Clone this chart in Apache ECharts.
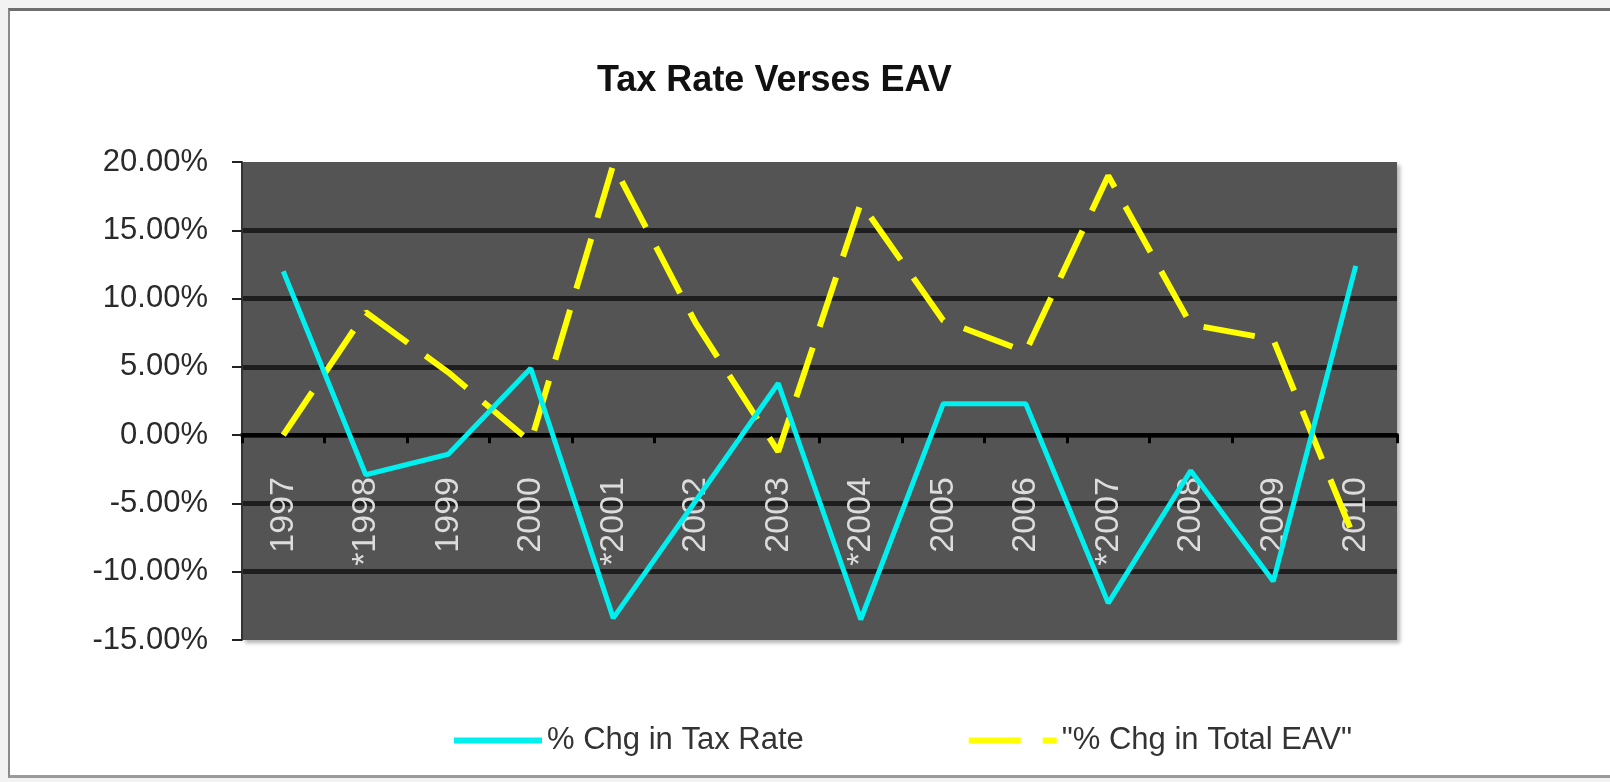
<!DOCTYPE html>
<html>
<head>
<meta charset="utf-8">
<title>Tax Rate Verses EAV</title>
<script src="https://cdn.jsdelivr.net/npm/echarts@6/dist/echarts.min.js"></script>
<style>
    body { margin: 0; background: #f2f2f2; overflow: hidden; }
    #frame { position: absolute; left: 8px; top: 8px; width: 1640px; height: 764px; background: #fff;
             border-top: 3px solid #6e6e6e; border-left: 2px solid #8a8a8a; border-bottom: 3px solid #9a9a9a; }
    #graph { position: absolute; left: 0; top: 0; width: 1610px; height: 782px; }
</style>
</head>
<body onload="onBodyLoad()">
<div id="frame"></div>
<div id="graph"></div>
<script>
var years = ['1997', '*1998', '1999', '2000', '*2001', '2002', '2003', '*2004', '2005', '2006', '*2007', '2008', '2009', '2010']
var taxRate = [12.0, -2.9, -1.4, 4.9, -13.4, -4.8, 3.8, -13.5, 2.3, 2.3, -12.3, -2.6, -10.7, 12.4]
var totalEAV = [0.0, 9.0, 4.6, -0.5, 19.8, 8.2, -1.2, 17.0, 8.4, 6.1, 19.0, 8.1, 7.0, -7.8]
var yTicks = [-15, 20, 5]   // min, max, step
var seriesNames = ['% Chg in Tax Rate', '"% Chg in Total EAV"']

var Chart

function onBodyLoad() {
    makeGraph()
}

function makeGraph() {
    Chart = echarts.init(document.getElementById('graph'))
    var font = 'Liberation Sans, Arial, sans-serif'
    var option = {
        animation: false,
        textStyle: { fontFamily: font },
        title: {
            text: 'Tax Rate Verses EAV',
            left: 592,
            top: 58,
            textStyle: { fontSize: 36, fontWeight: 'bold', color: '#111', fontFamily: font }
        },
        legend: {
            data: seriesNames,
            left: 446,
            top: 720,
            itemWidth: 88,
            itemHeight: 14,
            itemGap: 162,
            itemStyle: { opacity: 0 },      // hide the dot, keep only the line
            lineStyle: { width: 6 },
            textStyle: { fontSize: 31, color: '#333', fontFamily: font }
        },
        grid: {
            show: true,
            left: 242,
            right: 213,
            top: 162,
            bottom: 142,
            backgroundColor: '#545454',
            borderWidth: 0,
            shadowColor: 'rgba(0,0,0,0.3)',
            shadowBlur: 4,
            shadowOffsetX: 3,
            shadowOffsetY: 3
        },
        xAxis: {
            type: 'category',
            data: years,
            boundaryGap: true,
            axisLine: { onZero: true, lineStyle: { color: '#000', width: 4 } },
            axisTick: { show: true, length: 8, lineStyle: { color: '#000', width: 3 } },
            axisLabel: {
                rotate: 90,
                margin: -163,   // labels sit just under the zero line, inside the plot
                fontSize: 34,
                color: '#dcdcdc',
                fontFamily: font
            },
            splitLine: { show: false }
        },
        yAxis: {
            type: 'value',
            min: yTicks[0],
            max: yTicks[1],
            interval: yTicks[2],
            axisLine: { show: true, lineStyle: { color: '#333', width: 2 } },
            axisTick: { show: true, length: 10, lineStyle: { color: '#222', width: 2 } },
            axisLabel: {
                margin: 34,
                fontSize: 31,
                color: '#2a2a2a',
                fontFamily: font,
                formatter: function (v) { return v.toFixed(2) + '%' }
            },
            splitLine: {
                show: true,
                // no line on the top and bottom edge of the plot
                lineStyle: {
                    width: 5,
                    color: ['transparent', '#1e1e1e', '#1e1e1e', '#1e1e1e', '#1e1e1e', '#1e1e1e', '#1e1e1e', 'transparent']
                }
            }
        },
        series: [
            {
                name: seriesNames[0],
                type: 'line',
                data: taxRate,
                symbol: 'none',
                lineStyle: { color: '#00f0f0', width: 5 },
                itemStyle: { color: '#00f0f0' },
                z: 3
            },
            {
                name: seriesNames[1],
                type: 'line',
                data: totalEAV,
                symbol: 'none',
                lineStyle: { color: '#ffff00', width: 6, type: [52, 22] },
                itemStyle: { color: '#ffff00' },
                z: 2
            }
        ]
    }
    Chart.setOption(option)
}
</script>
</body>
</html>
